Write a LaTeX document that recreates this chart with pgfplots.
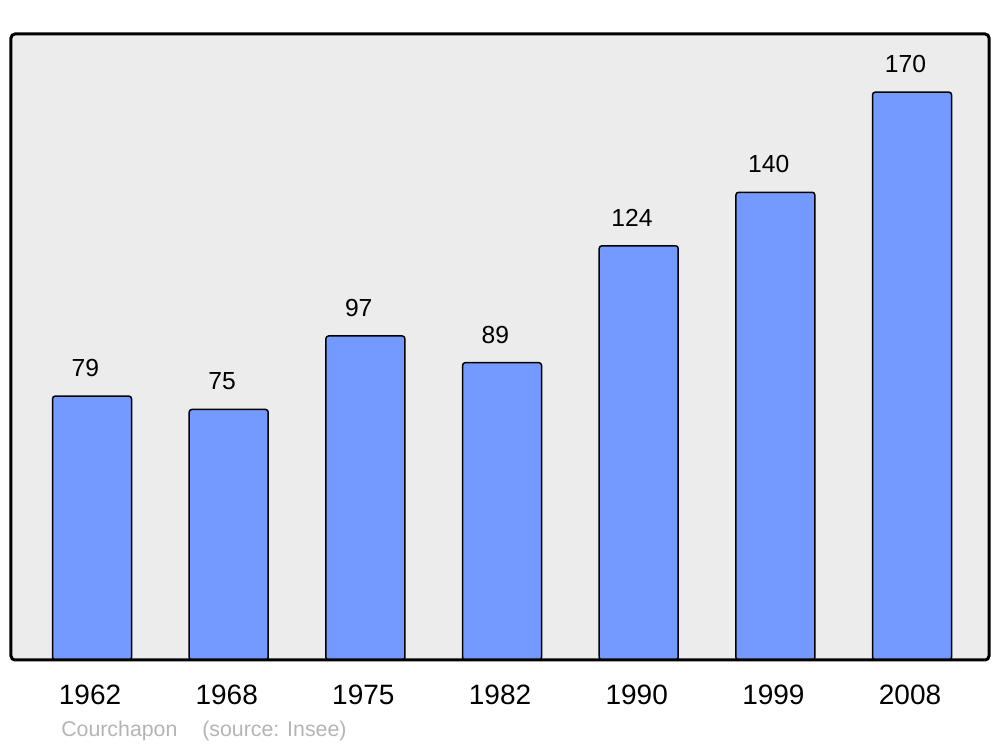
\documentclass[border=0pt]{standalone}
\usepackage{fontspec}
\setmainfont{Liberation Sans}
\usepackage{pgfplots}
\pgfplotsset{compat=1.18}
\definecolor{barfill}{HTML}{7499FF}
\definecolor{bgfill}{HTML}{ECECEC}
\definecolor{foot}{HTML}{B4B4B4}
\begin{document}
\begin{tikzpicture}
\begin{axis}[
  set layers,
  scale only axis,
  width=733.5pt, height=469.5pt,
  xmin=-0.593, xmax=6.563,
  ymin=0, ymax=187.4,
  axis line style={draw=none},
  ytick=\empty,
  xtick={0,1,2,3,4,5,6},
  xticklabels={1962,1968,1975,1982,1990,1999,2008},
  major tick length=0pt,
  xticklabel style={font=\fontsize{21}{24}\selectfont, anchor=base, yshift=-33.75pt, xshift=-1.5pt},
  ybar, bar width=0.578,
  nodes near coords,
  /pgf/number format/assume math mode=true,
  every node near coord/.append style={font=\fontsize{18.5}{22}\selectfont, anchor=center, yshift=21pt, xshift=-5pt, black},
  clip=false,
]
\begin{pgfonlayer}{axis background}
\fill[bgfill, rounded corners=3pt] (rel axis cs:0,0) rectangle (rel axis cs:1,1);
\end{pgfonlayer}
\addplot[fill=barfill, draw=black, line width=1.1pt, rounded corners=2pt] coordinates {
 (0,79) (1,75) (2,97) (3,89) (4,124) (5,140) (6,170)};
\draw[black, line width=2.25pt, rounded corners=3pt] (rel axis cs:0,0) rectangle (rel axis cs:1,1);
\node[anchor=base west, text=foot, font=\fontsize{16}{18}\selectfont, inner sep=0pt] at ([xshift=37.5pt, yshift=-57.75pt]rel axis cs:0,0) {Courchapon};
\node[anchor=base west, text=foot, font=\fontsize{16}{18}\selectfont, inner sep=0pt] at ([xshift=143.25pt, yshift=-57.75pt]rel axis cs:0,0) {(source: Insee)};
\end{axis}
\pgfresetboundingbox
\path ([xshift=-8.25pt, yshift=-65.25pt]current axis.south west) rectangle ([xshift=8.25pt, yshift=25.5pt]current axis.north east);
\end{tikzpicture}
\end{document}
